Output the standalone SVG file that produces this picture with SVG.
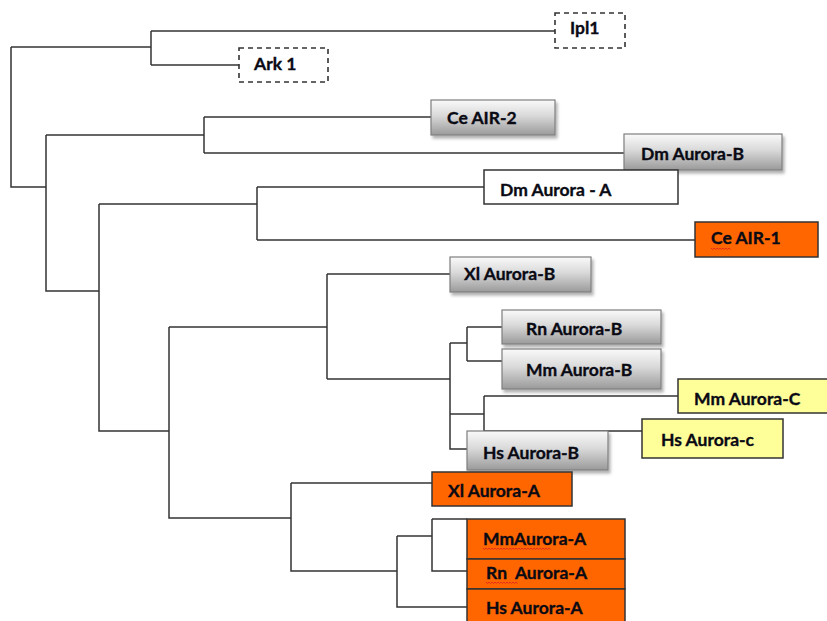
<svg xmlns="http://www.w3.org/2000/svg" width="827" height="621" viewBox="0 0 827 621">
<defs>
<linearGradient id="gray" x1="0" y1="0" x2="0" y2="1">
<stop offset="0" stop-color="#fafafa"/>
<stop offset="0.45" stop-color="#d9d9d9"/>
<stop offset="1" stop-color="#9a9a9a"/>
</linearGradient>
<filter id="sh" x="-10%" y="-20%" width="130%" height="160%">
<feDropShadow dx="2" dy="3" stdDeviation="1.5" flood-color="#000" flood-opacity="0.3"/>
</filter>
</defs>
<style>
.ln{fill:none;stroke:#333;stroke-width:1.5}
.g{fill:url(#gray);stroke:#7f7f7f;stroke-width:1.2;filter:url(#sh)}
.w{fill:#fff;stroke:#333;stroke-width:1.5}
.o{fill:#ff6600;stroke:#333;stroke-width:1.5}
.y{fill:#ffff99;stroke:#333;stroke-width:1.5}
.d{fill:#fff;stroke:#333;stroke-width:1.6;stroke-dasharray:5,4}
.t{font-family:Lato,"Open Sans",sans-serif;font-weight:bold;font-size:17.5px;fill:#0a0a14;stroke:#0a0a14;stroke-width:0.35;white-space:pre}
.sq{fill:none;stroke:#e02020;stroke-width:0.8}
</style>
<g id="connectors" class="ln">
<path d="M11,47 V187 H46"/>
<path d="M11,47 H151"/>
<path d="M151,31 V65"/>
<path d="M151,31 H555"/>
<path d="M151,65 H239"/>
<path d="M46,135 V291 H99"/>
<path d="M46,135 H204"/>
<path d="M204,117 V153"/>
<path d="M204,117 H431"/>
<path d="M204,153 H624"/>
<path d="M99,204 V431 H169"/>
<path d="M99,204 H257"/>
<path d="M257,187 V240"/>
<path d="M257,187 H484"/>
<path d="M257,240 H695"/>
<path d="M169,327 V518 H291"/>
<path d="M169,327 H327"/>
<path d="M327,274 V379"/>
<path d="M327,274 H450"/>
<path d="M327,379 H450"/>
<path d="M450,343 V449 H467"/>
<path d="M450,343 H467"/>
<path d="M467,327 V361"/>
<path d="M467,327 H502"/>
<path d="M467,361 H502"/>
<path d="M450,414 H484"/>
<path d="M484,396 V431"/>
<path d="M484,396 H678"/>
<path d="M484,431 H642"/>
<path d="M291,483 V571 H397"/>
<path d="M291,483 H432"/>
<path d="M397,536 V607 H467"/>
<path d="M397,536 H432"/>
<path d="M432,519 V571 H467"/>
<path d="M432,519 H467"/>
</g>
<g id="ipl1"><rect class="d" x="555" y="13" width="70" height="35"/><text class="t" x="570" y="34">Ipl1</text></g>
<g id="ark1"><rect class="d" x="239" y="48" width="89" height="34"/><text class="t" x="254" y="70">Ark 1</text></g>
<g id="ce-air-2"><rect class="g" x="431" y="100" width="124" height="35"/><text class="t" x="447" y="124">Ce AIR-2</text></g>
<g id="dm-aurora-b"><rect class="g" x="624" y="134" width="158" height="36"/><text class="t" x="641" y="160">Dm Aurora-B</text></g>
<g id="dm-aurora-a"><rect class="w" x="484" y="170" width="194" height="34"/><text class="t" x="500" y="196">Dm Aurora - A</text></g>
<g id="ce-air-1"><rect class="o" x="695" y="222" width="123" height="35"/><text class="t" x="711" y="244">Ce AIR-1</text><path class="sq" d="M711,248 l1.5,1.5 l1.5,-1.5 l1.5,1.5 l1.5,-1.5 l1.5,1.5 l1.5,-1.5 l1.5,1.5 l1.5,-1.5 l1.5,1.5 l1.5,-1.5 l1.5,1.5 l1.5,-1.5 l1.5,1.5"/></g>
<g id="xl-aurora-b"><rect class="g" x="450" y="257" width="141" height="35"/><text class="t" x="464" y="280">Xl Aurora-B</text></g>
<g id="rn-aurora-b"><rect class="g" x="502" y="310" width="159" height="34"/><text class="t" x="526" y="335">Rn Aurora-B</text></g>
<g id="mm-aurora-b"><rect class="g" x="502" y="349" width="159" height="40"/><text class="t" x="526" y="376">Mm Aurora-B</text></g>
<g id="mm-aurora-c"><rect class="y" x="678" y="379" width="150" height="34"/><text class="t" x="694" y="405">Mm Aurora-C</text></g>
<g id="hs-aurora-c"><rect class="y" x="642" y="419" width="141" height="39"/><text class="t" x="661" y="446">Hs Aurora-c</text></g>
<g id="hs-aurora-b"><rect class="g" x="467" y="431" width="141" height="39"/><text class="t" x="483" y="459">Hs Aurora-B</text></g>
<g id="xl-aurora-a"><rect class="o" x="432" y="472" width="140" height="34"/><text class="t" x="448" y="497">Xl Aurora-A</text></g>
<g id="mmaurora-a"><rect class="o" x="467" y="519" width="158" height="40"/><text class="t" x="483" y="545">MmAurora-A</text><path class="sq" d="M483,548 l1.5,1.5 l1.5,-1.5 l1.5,1.5 l1.5,-1.5 l1.5,1.5 l1.5,-1.5 l1.5,1.5 l1.5,-1.5 l1.5,1.5 l1.5,-1.5 l1.5,1.5 l1.5,-1.5 l1.5,1.5 l1.5,-1.5 l1.5,1.5 l1.5,-1.5 l1.5,1.5 l1.5,-1.5 l1.5,1.5 l1.5,-1.5 l1.5,1.5 l1.5,-1.5 l1.5,1.5 l1.5,-1.5 l1.5,1.5 l1.5,-1.5 l1.5,1.5 l1.5,-1.5 l1.5,1.5 l1.5,-1.5 l1.5,1.5 l1.5,-1.5 l1.5,1.5 l1.5,-1.5 l1.5,1.5 l1.5,-1.5 l1.5,1.5 l1.5,-1.5 l1.5,1.5 l1.5,-1.5 l1.5,1.5 l1.5,-1.5 l1.5,1.5 l1.5,-1.5 l1.5,1.5"/></g>
<g id="rn-aurora-a"><rect class="o" x="467" y="559" width="158" height="30"/><text class="t" x="486" y="579">Rn  Aurora-A</text><path class="sq" d="M486,582 l1.5,1.5 l1.5,-1.5 l1.5,1.5 l1.5,-1.5 l1.5,1.5 l1.5,-1.5 l1.5,1.5 l1.5,-1.5 l1.5,1.5 l1.5,-1.5 l1.5,1.5 l1.5,-1.5 l1.5,1.5 l1.5,-1.5 l1.5,1.5 l1.5,-1.5 l1.5,1.5 l1.5,-1.5 l1.5,1.5 l1.5,-1.5 l1.5,1.5"/></g>
<g id="hs-aurora-a"><rect class="o" x="467" y="589" width="158" height="36"/><text class="t" x="486" y="614">Hs Aurora-A</text></g>
</svg>
